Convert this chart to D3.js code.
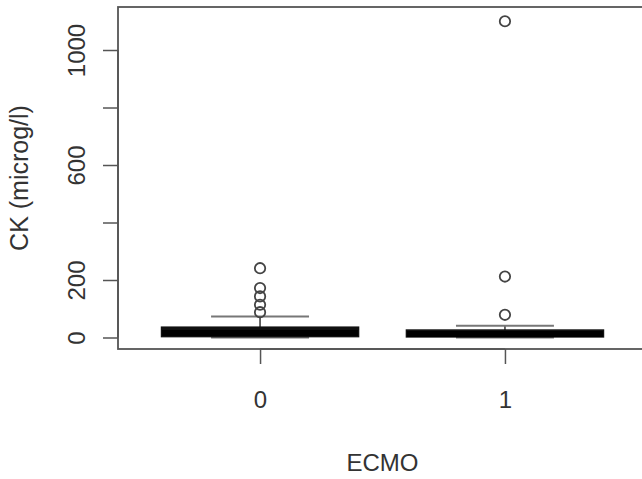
<!DOCTYPE html>
<html><head><meta charset="utf-8">
<script src="https://cdn.jsdelivr.net/npm/d3@7"></script>
<style>body{margin:0;background:#fff;}svg{display:block;font-family:"Liberation Sans",Arial,sans-serif;}</style>
</head><body>
<script>
const categories = ["0", "1"];
const whiskerLow = [0, 0];
const q1 = [5, 4];
const median = [16, 12];
const q3 = [34, 24];
const whiskerHigh = [73, 41];
const outliers = [[88, 114, 143, 172, 241], [79, 212, 1100]];
const yTicks = [0, 200, 400, 600, 800, 1000];
const yTickLabels = ["0", "200", "", "600", "", "1000"];
const xLabel = "ECMO";
const yLabel = "CK (microg/l)";

(function(){
const W = 642, H = 479;
const svg = d3.select("body").append("svg").attr("width", W).attr("height", H);
const pl = 118, pr = 647, pt = 7, pb = 349;
const x = d3.scaleLinear().domain([0.42, 2.58]).range([pl, pr]);
const y = d3.scaleLinear().domain([-40, 1149.6]).range([pb, pt]);
const frameCol = "#555";

// frame
svg.append("rect").attr("x", pl).attr("y", pt).attr("width", pr - pl).attr("height", pb - pt)
  .attr("fill", "none").attr("stroke", frameCol).attr("stroke-width", 1.8);

// y axis
const yAxis = d3.axisLeft(y).tickValues(yTicks).tickSize(15).tickFormat((d, i) => yTickLabels[i]);
const ya = svg.append("g").attr("transform", `translate(${pl},0)`).call(yAxis);
ya.select(".domain").attr("d", `M0,${y(0)}V${y(1000)}`).attr("stroke", frameCol).attr("stroke-width", 1.5);
ya.selectAll(".tick line").attr("stroke", frameCol).attr("stroke-width", 1.5);
ya.selectAll(".tick text").attr("font-size", 24).attr("fill", "#333")
  .attr("x", 0).attr("y", 0).attr("dx", 0).attr("dy", 0)
  .attr("text-anchor", "middle")
  .attr("transform", "translate(-33,0) rotate(-90)");

// x axis
const xAxis = d3.axisBottom(x).tickValues([1, 2]).tickSize(15).tickFormat((d, i) => categories[i]);
const xa = svg.append("g").attr("transform", `translate(0,${pb})`).call(xAxis);
xa.select(".domain").attr("d", `M${x(1)},0H${x(2)}`).attr("stroke", frameCol).attr("stroke-width", 1.5);
xa.selectAll(".tick line").attr("stroke", frameCol).attr("stroke-width", 1.5);
xa.selectAll(".tick text").attr("font-size", 24).attr("fill", "#333")
  .attr("y", 59).attr("dy", 0);

// axis titles
svg.append("text").attr("x", (x(1) + x(2)) / 2).attr("y", 471).attr("text-anchor", "middle")
  .attr("font-size", 24).attr("fill", "#333").text(xLabel);
svg.append("text").attr("transform", `translate(28,${(pt + pb) / 2}) rotate(-90)`).attr("text-anchor", "middle")
  .attr("font-size", 25).attr("fill", "#333").text(yLabel);

// boxes
const bw = 0.4, cw = 0.2;
categories.forEach((c, i) => {
  const cx = i + 1;
  const g = svg.append("g");
  g.append("line").attr("x1", x(cx)).attr("x2", x(cx)).attr("y1", y(q3[i])).attr("y2", y(whiskerHigh[i]))
    .attr("stroke", "#333").attr("stroke-width", 1.5);
  g.append("line").attr("x1", x(cx)).attr("x2", x(cx)).attr("y1", y(q1[i])).attr("y2", y(whiskerLow[i]))
    .attr("stroke", "#333").attr("stroke-width", 1.5);
  [whiskerHigh[i], whiskerLow[i]].forEach(v => {
    g.append("line").attr("x1", x(cx - cw)).attr("x2", x(cx + cw)).attr("y1", y(v)).attr("y2", y(v))
      .attr("stroke", "#777").attr("stroke-width", 2);
  });
  g.append("rect").attr("x", x(cx - bw)).attr("width", x(cx + bw) - x(cx - bw))
    .attr("y", y(q3[i])).attr("height", y(q1[i]) - y(q3[i]))
    .attr("fill", "#111").attr("stroke", "#111").attr("stroke-width", 2.6);
  g.append("line").attr("x1", x(cx - bw)).attr("x2", x(cx + bw)).attr("y1", y(median[i])).attr("y2", y(median[i]))
    .attr("stroke", "#000").attr("stroke-width", 6);
  outliers[i].forEach(v => {
    g.append("circle").attr("cx", x(cx)).attr("cy", y(v)).attr("r", 5.2)
      .attr("fill", "none").attr("stroke", "#444").attr("stroke-width", 1.8);
  });
});
})();
</script>
</body></html>
